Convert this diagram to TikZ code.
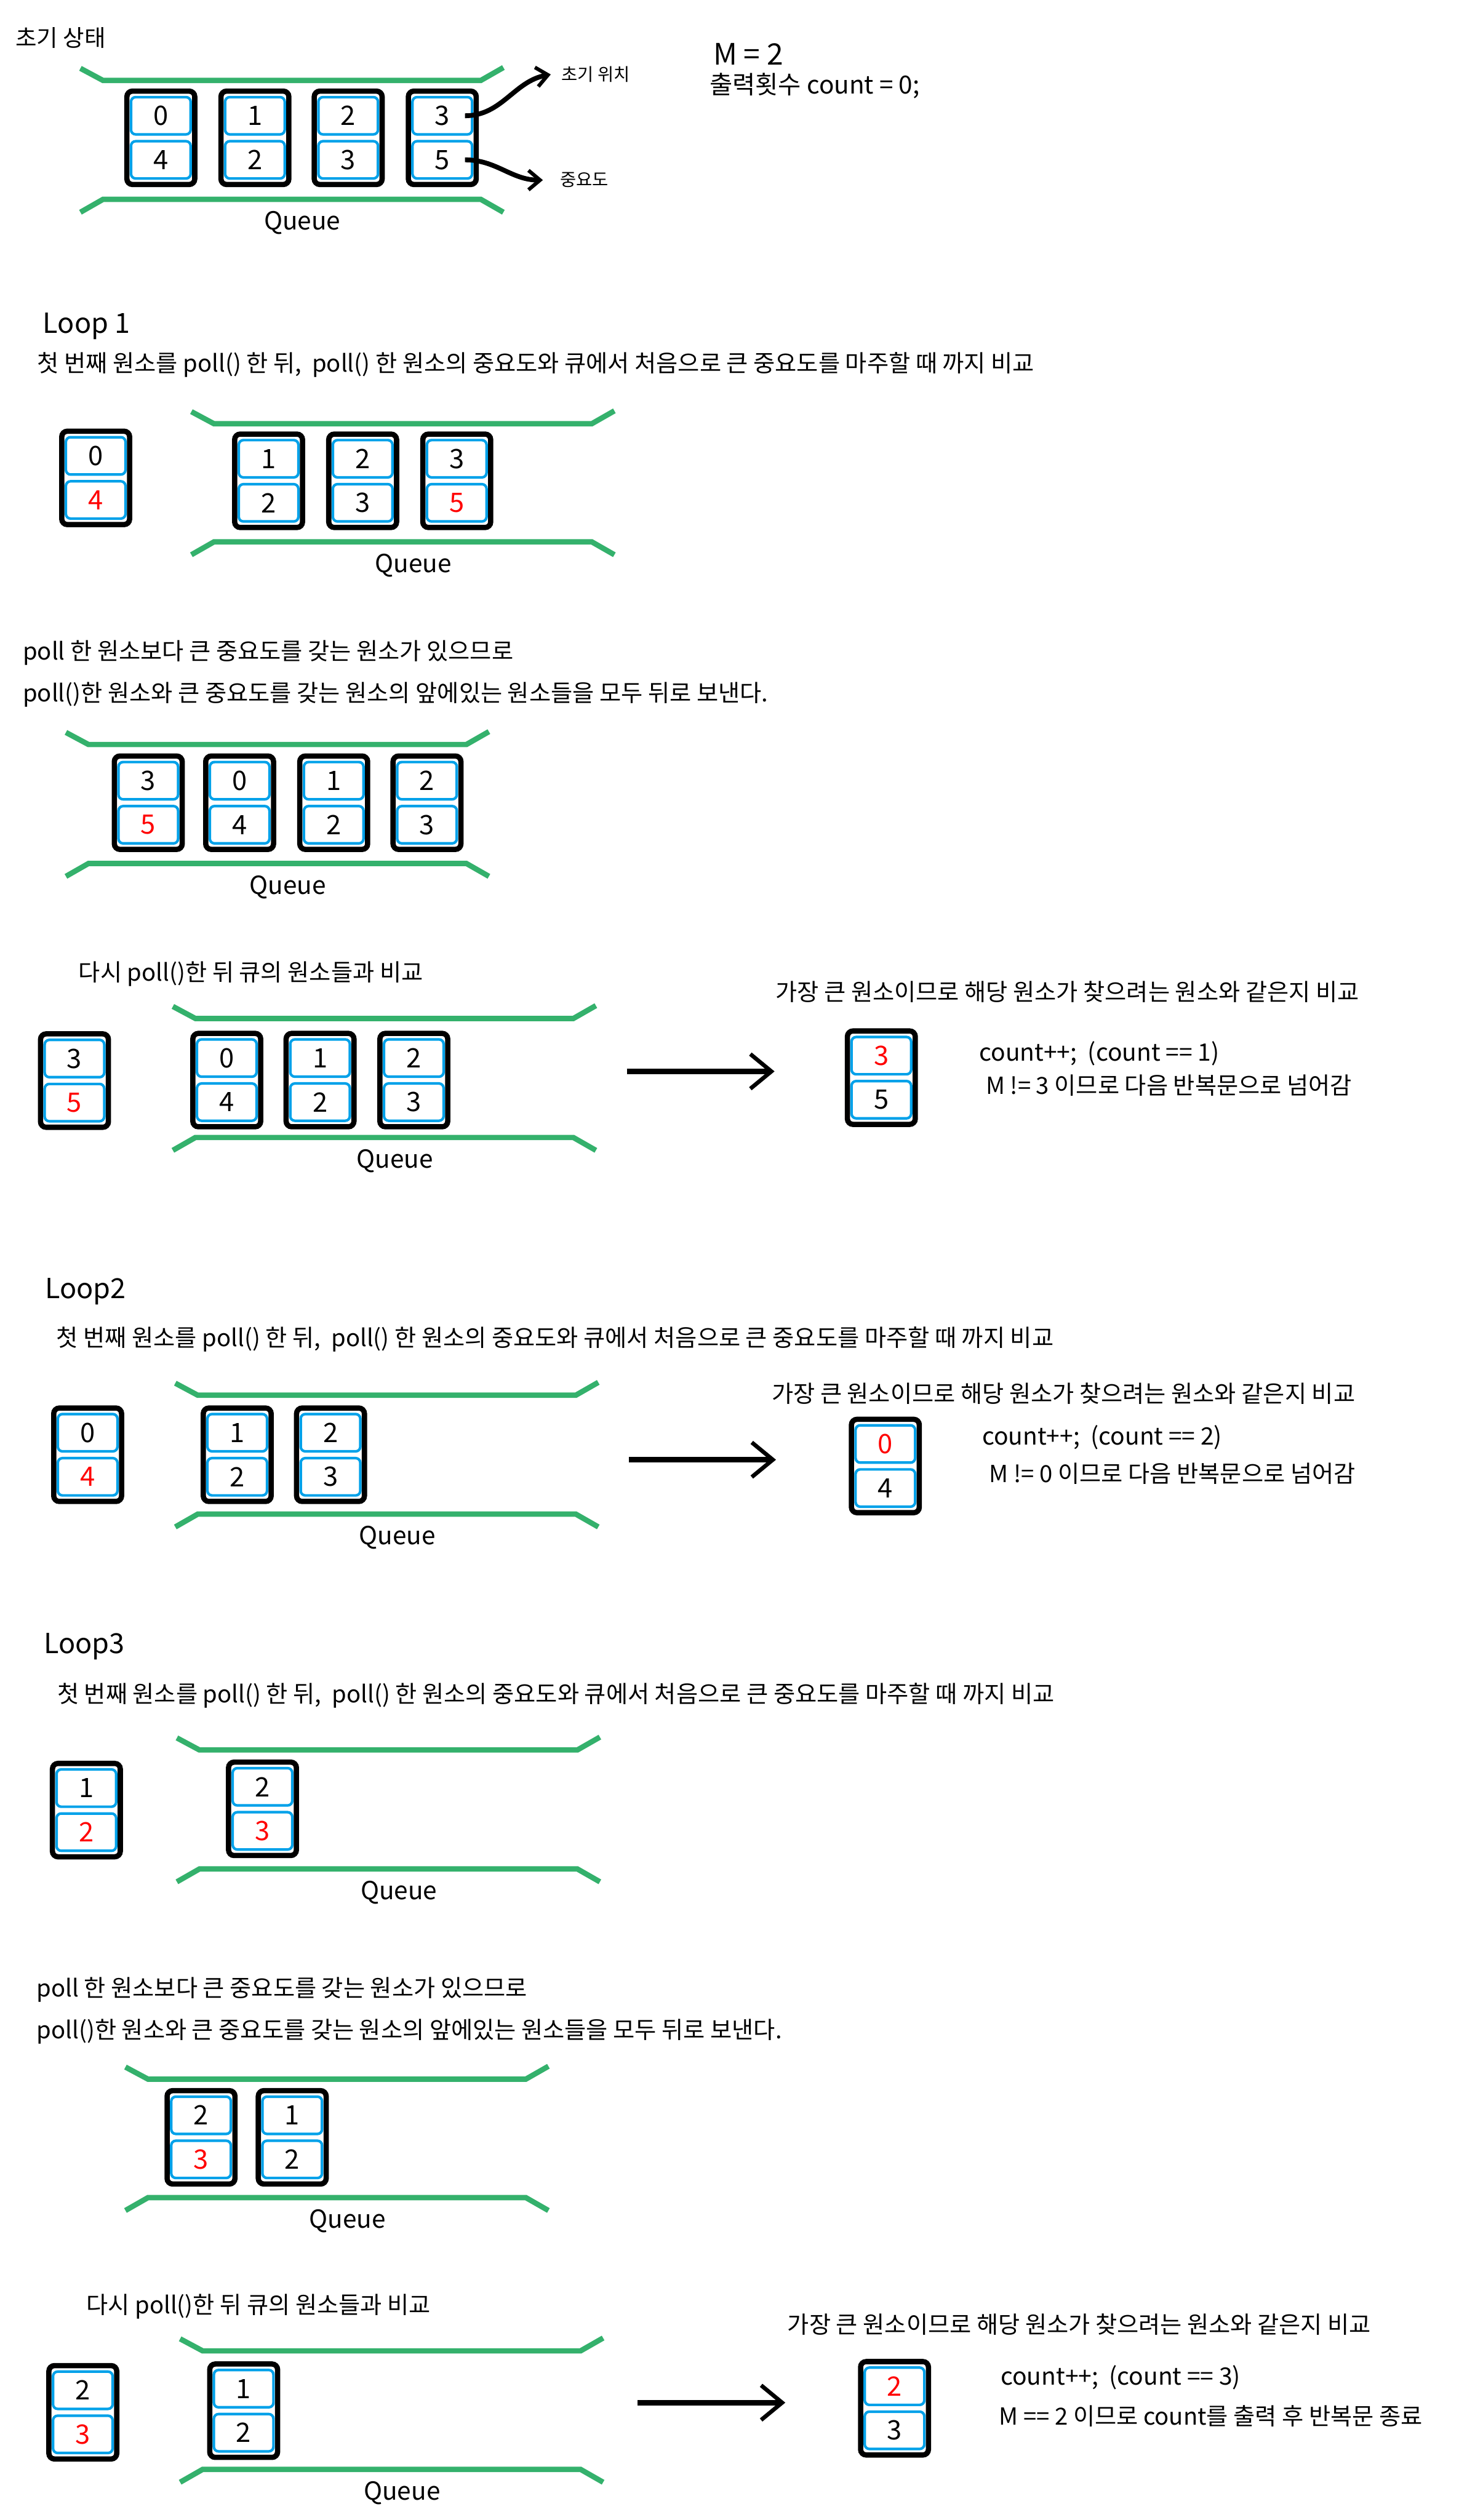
\documentclass[tikz,border=0pt]{standalone}
\usepackage{fontspec}
\setmainfont{Noto Sans CJK KR}
\usetikzlibrary{arrows.meta, positioning, fit, calc}
\definecolor{queuegreen}{RGB}{52,177,108}
\definecolor{cellblue}{RGB}{0,161,233}
\definecolor{hotred}{RGB}{255,0,0}

\newcommand{\imp}[1]{\textcolor{hotred}{#1}}
% one element: index on top, priority below
\newcommand{\elem}[4]{%
  \node[cell] (#1t) at ($(#2)+(0,-14)$) {#3};
  \node[cell, below=0.08cm of #1t] (#1b) {#4};
  \node[elembox, fit=(#1t)(#1b)] (#1) {};
}
% queue walls with label
\newcommand{\queuewalls}[4]{%
  \draw[wall] (#2-14,#3-7.5) -- (#2,#3) -- (#2+235,#3) -- (#2+249,#3-8);
  \draw[wall] (#2-14,#4+8) -- (#2,#4) -- (#2+235,#4) -- (#2+249,#4+8);
  \node[queuelabel] (#1) at (#2+124,#4+14.6) {Queue};
}

\begin{document}
\begin{tikzpicture}[
    x=0.030628cm, y=-0.030628cm,
    cell/.style={
        draw=cellblue, line width=1.4pt, rounded corners=2.5pt,
        minimum width=1.135cm, minimum height=0.71cm, inner sep=0pt,
        font=\fontsize{14.5}{14.5}\selectfont
    },
    elembox/.style={
        draw=black, line width=2.85pt, rounded corners=3pt,
        inner xsep=0.054cm, inner ysep=0.09cm
    },
    wall/.style={draw=queuegreen, line width=2.9pt},
    queuelabel/.style={inner sep=0pt, font=\fontsize{13.5}{15}\selectfont},
    note/.style={anchor=west, inner sep=0pt, font=\fontsize{12.75}{14}\selectfont},
    loophead/.style={note, font=\fontsize{15}{17}\selectfont},
    countnote/.style={note, font=\fontsize{13}{15}\selectfont},
    sidenote/.style={note, font=\fontsize{9.5}{11}\selectfont},
    bigarrow/.style={-{Straight Barb[length=4mm, width=6.6mm, line width=2.2pt]}, line width=3.1pt},
    bendarrow/.style={-{Straight Barb[length=2.2mm, width=3.7mm, line width=2pt]}, line width=2.6pt}
]
\useasboundingbox (0,0) rectangle (907,1567.2);

% INITIAL STATE
\node[note, font=\fontsize{12.5}{14}\selectfont] (init) at (9.5,23.5) {초기 상태};
\node[note, font=\fontsize{16}{18}\selectfont] (mval) at (443.3,33.7) {M = 2};
\node[note, font=\fontsize{13.5}{15}\selectfont] (cnt0) at (441,53.3) {출력횟수 count = 0;};
\queuewalls{q0}{64}{50}{124}
\elem{s0a}{100,86}{0}{4}
\elem{s0b}{158.5,86}{1}{2}
\elem{s0c}{216.5,86}{2}{3}
\elem{s0d}{275,86}{3}{5}
\node[sidenote] (posl) at (349,46.3) {초기 위치};
\node[sidenote] (pril) at (348,112) {중요도};
\draw[bendarrow] ([xshift=-0.16cm]s0dt.east) to[out=0, in=190] ([xshift=-0.2cm]posl.west);
\draw[bendarrow] ([xshift=-0.16cm]s0db.east) to[out=0, in=180] ([xshift=-0.32cm]pril.west);

% LOOP 1
\node[loophead] (loop1) at (26.5,203) {Loop 1};
\node[note] (step1) at (23,227) {첫 번째 원소를 poll() 한 뒤,~ poll() 한 원소의 중요도와 큐에서 처음으로 큰 중요도를 마주할 때 까지 비교};
\elem{l1p}{59.5,297.5}{0}{\imp{4}}
\queuewalls{q1}{133}{263.5}{337}
\elem{l1a}{167,299.3}{1}{2}
\elem{l1b}{225.5,299.3}{2}{3}
\elem{l1c}{284,299.3}{3}{\imp{5}}

% MOVE TO BACK
\node[note] (why1) at (14,406) {poll 한 원소보다 큰 중요도를 갖는 원소가 있으므로};
\node[note] (move1) at (14,432) {poll()한 원소와 큰 중요도를 갖는 원소의 앞에있는 원소들을 모두 뒤로 보낸다.};
\queuewalls{q2}{55}{463}{537}
\elem{p1a}{92.2,499.5}{3}{\imp{5}}
\elem{p1b}{149,499.5}{0}{4}
\elem{p1c}{207.5,499.5}{1}{2}
\elem{p1d}{265.5,499.5}{2}{3}

% POLL AGAIN
\node[note] (again1) at (48.7,605.6) {다시 poll()한 뒤 큐의 원소들과 비교};
\elem{d1p}{46.3,672.3}{3}{\imp{5}}
\queuewalls{q3}{121.5}{633.4}{707.4}
\elem{d1a}{141,672}{0}{4}
\elem{d1b}{199,672}{1}{2}
\elem{d1c}{257.3,672}{2}{3}
\coordinate (d1from) at (389.7,666.3);
\coordinate (d1to) at (481.6,666.3);
\draw[bigarrow] (d1from) -- (d1to);
\node[note] (max1) at (482,617) {가장 큰 원소이므로 해당 원소가 찾으려는 원소와 같은지 비교};
\elem{d1r}{548,670.5}{\imp{3}}{5}
\node[countnote] (cnt1) at (608.7,655) {count++;~ (count == 1)};
\node[note] (res1) at (612.8,675) {M != 3 이므로 다음 반복문으로 넘어감};

% LOOP 2
\node[loophead] (loop2) at (27.9,803) {Loop2};
\node[note] (step2) at (34.9,832.8) {첫 번째 원소를 poll() 한 뒤,~ poll() 한 원소의 중요도와 큐에서 처음으로 큰 중요도를 마주할 때 까지 비교};
\elem{l2p}{54.5,905}{0}{\imp{4}}
\queuewalls{q4}{123}{867.7}{941.6}
\elem{l2a}{147.5,905}{1}{2}
\elem{l2b}{205.5,905}{2}{3}
\coordinate (l2from) at (391,907.8);
\coordinate (l2to) at (482.5,907.8);
\draw[bigarrow] (l2from) -- (l2to);
\node[note] (max2) at (479.6,866.6) {가장 큰 원소이므로 해당 원소가 찾으려는 원소와 같은지 비교};
\elem{l2r}{550.5,912}{\imp{0}}{4}
\node[countnote] (cnt2) at (610.5,894) {count++;~ (count == 2)};
\node[note] (res2) at (615,916.4) {M != 0 이므로 다음 반복문으로 넘어감};

% LOOP 3
\node[loophead] (loop3) at (27,1024) {Loop3};
\node[note] (step3) at (35.4,1054.5) {첫 번째 원소를 poll() 한 뒤,~ poll() 한 원소의 중요도와 큐에서 처음으로 큰 중요도를 마주할 때 까지 비교};
\elem{l3p}{53.7,1126}{1}{\imp{2}}
\queuewalls{q5}{124}{1088.3}{1162.3}
\elem{l3a}{163.2,1125.2}{2}{\imp{3}}

% MOVE TO BACK
\node[note] (why2) at (22.6,1237.3) {poll 한 원소보다 큰 중요도를 갖는 원소가 있으므로};
\node[note] (move2) at (22.6,1263.5) {poll()한 원소와 큰 중요도를 갖는 원소의 앞에있는 원소들을 모두 뒤로 보낸다.};
\queuewalls{q6}{92}{1293}{1366.7}
\elem{p2a}{125,1329.5}{2}{\imp{3}}
\elem{p2b}{181.7,1329.5}{1}{2}

% POLL AGAIN, END
\node[note] (again2) at (53.5,1434.3) {다시 poll()한 뒤 큐의 원소들과 비교};
\elem{fp}{51.5,1500.5}{2}{\imp{3}}
\queuewalls{q7}{126}{1462}{1535.7}
\elem{fa}{151.5,1499.5}{1}{2}
\coordinate (ffrom) at (396.5,1494.2);
\coordinate (fto) at (488.3,1494.2);
\draw[bigarrow] (ffrom) -- (fto);
\node[note] (max3) at (489.5,1445.7) {가장 큰 원소이므로 해당 원소가 찾으려는 원소와 같은지 비교};
\elem{fr}{556.2,1498}{\imp{2}}{3}
\node[countnote] (cnt3) at (622,1478.4) {count++;~ (count == 3)};
\node[note] (res3) at (621,1502.4) {M == 2 이므로 count를 출력 후 반복문 종료};

\end{tikzpicture}
\end{document}
